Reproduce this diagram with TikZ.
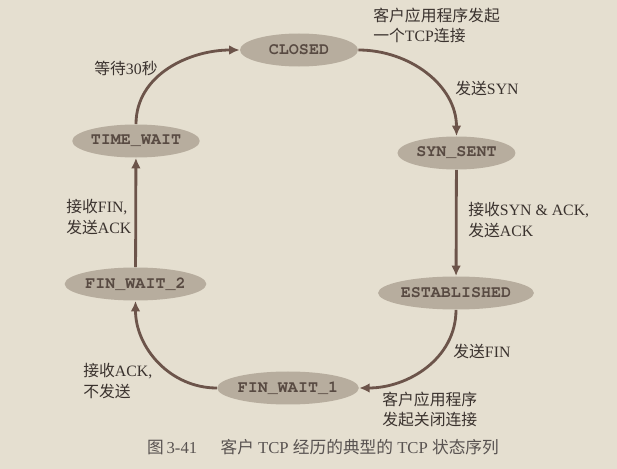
\documentclass[tikz,border=0pt]{standalone}
\usepackage{fontspec}
\setmainfont{Liberation Serif}
\newfontfamily\cjk{Noto Sans CJK SC}
\newfontfamily\statefont{texgyrecursor-bold.otf}
\usetikzlibrary{shapes.geometric,arrows.meta}
\definecolor{paper}{RGB}{229,223,208}
\definecolor{stfill}{RGB}{183,173,158}
\definecolor{sttext}{RGB}{88,74,66}
\definecolor{arrowc}{RGB}{108,84,74}
\definecolor{lbltext}{RGB}{58,50,46}
\definecolor{captext}{RGB}{88,82,80}
\begin{document}
\begin{tikzpicture}[
    stbox/.style={ellipse, fill=stfill, minimum width=2.36cm, minimum height=0.66cm, inner sep=0pt, text=sttext, font=\statefont\fontsize{9.5}{11}\selectfont},
    lbl/.style={anchor=west, align=left, inner sep=0pt, text=lbltext, font=\fontsize{9}{11.4}\selectfont},
    flow/.style={draw=arrowc, line width=1.6pt, -{Latex[length=6pt,width=5.5pt]}}
]
        \useasboundingbox (0, 0) rectangle (12.34, -9.38);
        \fill[paper] (0, 0) rectangle (12.34, -9.38);
        \node[stbox] (v0) at (5.98, -1.00) {CLOSED};
        \node[stbox] (v1) at (9.13, -3.06) {SYN\_SENT};
        \node[stbox] (v2) at (9.12, -5.86) {ESTABLISHED};
        \node[stbox] (v3) at (5.76, -7.76) {FIN\_WAIT\_1};
        \node[stbox] (v4) at (2.71, -5.68) {FIN\_WAIT\_2};
        \node[stbox] (v5) at (2.72, -2.82) {TIME\_WAIT};
        \node[lbl] (t0) at (7.46, -0.50) {{\cjk 客户应用程序发起}\\{\cjk 一个}TCP{\cjk 连接}};
        \node[lbl] (t1) at (9.10, -1.76) {{\cjk 发送}SYN};
        \node[lbl] (t2) at (9.36, -4.40) {{\cjk 接收}SYN \& ACK,\\{\cjk 发送}ACK};
        \node[lbl] (t3) at (9.06, -7.02) {{\cjk 发送}FIN};
        \node[lbl] (t4) at (7.64, -8.18) {{\cjk 客户应用程序}\\{\cjk 发起关闭连接}};
        \node[lbl] (t5) at (1.66, -7.62) {{\cjk 接收}ACK,\\{\cjk 不发送}};
        \node[lbl] (t6) at (1.32, -4.34) {{\cjk 接收}FIN,\\{\cjk 发送}ACK};
        \node[lbl] (t7) at (1.88, -1.36) {{\cjk 等待}30{\cjk 秒}};
        \node[text=captext, font=\fontsize{9.5}{11}\selectfont] (cap) at (6.46, -8.94) {{\cjk 图}\,3-41\hspace{1.4em}{\cjk 客户} TCP {\cjk 经历的典型的} TCP {\cjk 状态序列}};
        \draw[flow] (v0.east) to[out=0, in=90] (v1.north);
        \draw[flow] (v1) -- (v2);
        \draw[flow] (v2.south) to[out=-90, in=0] (v3.east);
        \draw[flow] (v3.west) to[out=180, in=-90] (v4.south);
        \draw[flow] (v4) -- (v5);
        \draw[flow] (v5.north) to[out=90, in=180] (v0.west);
\end{tikzpicture}
\end{document}
